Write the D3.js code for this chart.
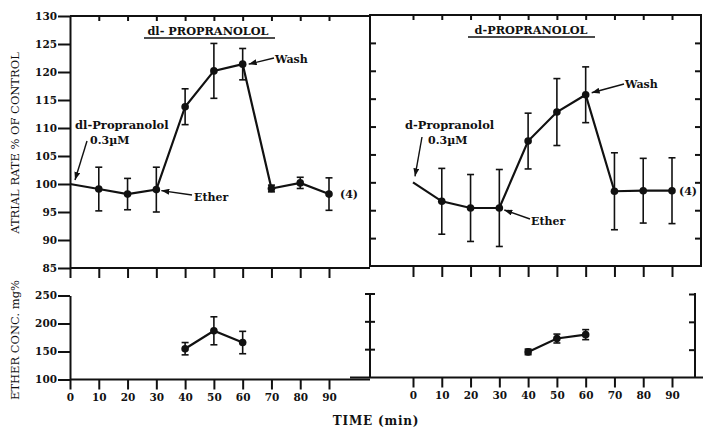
<!DOCTYPE html>
<html>
<head>
<meta charset="utf-8">
<script src="https://cdn.jsdelivr.net/npm/d3@7"></script>
<style>
  body { margin: 0; background: #fff; }
  svg text { font-family: "DejaVu Serif", serif; font-weight: bold; fill: #111; }
  .axis path, .axis line, .frame { stroke: #111; stroke-width: 2; fill: none; }
</style>
</head>
<body>
<div id="chart"></div>
<script>
// time points (min)
const times = [0, 10, 20, 30, 40, 50, 60, 70, 80, 90];
// atrial rate, % of control
const dlRate = [100, 99.1, 98.2, 99.0, 113.8, 120.2, 121.4, 99.2, 100.2, 98.2];
const dlRateErr = [0, 3.9, 2.8, 4.0, 3.2, 4.9, 2.8, 0.6, 1.0, 2.9];
const dRate = [100, 96.6, 95.4, 95.4, 107.4, 112.6, 115.7, 98.4, 98.5, 98.5];
const dRateErr = [0, 5.9, 6.0, 6.9, 5.0, 6.0, 5.0, 6.9, 5.8, 5.9];
// ether concentration, mg%
const etherTimes = [40, 50, 60];
const dlEther = [155, 187, 166];
const dlEtherErr = [11, 25, 20];
const dEther = [146, 170, 177];
const dEtherErr = [5, 8, 9];
// ticks
const rateTicks = [85, 90, 95, 100, 105, 110, 115, 120, 125, 130];
const etherTicks = [100, 150, 200, 250];

const width = 703, height = 430;

const svg = d3.select("#chart").append("svg")
  .attr("width", width).attr("height", height);

svg.append("defs").append("marker")
  .attr("id", "arrow")
  .attr("viewBox", "0 0 8 6")
  .attr("refX", 8).attr("refY", 3)
  .attr("markerWidth", 8).attr("markerHeight", 6)
  .attr("markerUnits", "userSpaceOnUse")
  .attr("orient", "auto")
  .append("path").attr("d", "M0,0L8,3L0,6Z").attr("fill", "#111");

// scales
const xL = d3.scaleLinear([0, 90], [70, 329]);
const xR = d3.scaleLinear([0, 90], [413, 672]);
const yTopL = d3.scaleLinear([85, 130], [268, 16]);
const yTopR = d3.scaleLinear([85, 130], [266, 15]);
const yBotL = d3.scaleLinear([100, 250], [379.5, 295.5]);
const yBotR = d3.scaleLinear([100, 250], [377.5, 294]);

function axis(gen, tx, ty, labels) {
  const g = svg.append("g").attr("class", "axis")
    .attr("transform", `translate(${tx},${ty})`)
    .call(gen);
  if (!labels) g.selectAll("text").remove();
  g.selectAll("text").attr("font-size", 10.5).attr("fill", "#111");
  return g;
}

// ---- top-left panel frame & axes
axis(d3.axisLeft(yTopL).tickValues(rateTicks).tickSize(12).tickSizeOuter(0).tickPadding(1), 70, 0, true);
svg.append("line").attr("class", "frame").attr("x1", 70).attr("x2", 370).attr("y1", 16).attr("y2", 16);
svg.append("line").attr("class", "frame").attr("x1", 70).attr("x2", 370).attr("y1", 268).attr("y2", 268);
axis(d3.axisBottom(xL).tickValues(times.slice(1)).tickSize(5), 0, 16).select(".domain").remove();
axis(d3.axisBottom(xL).tickValues(times).tickSize(10), 0, 268).select(".domain").remove();

// ---- top-right panel frame & axes
svg.append("rect").attr("class", "frame")
  .attr("x", 370).attr("y", 15).attr("width", 331).attr("height", 251);
axis(d3.axisRight(yTopR).tickValues(rateTicks.slice(1, -1)).tickSize(6), 370, 0).select(".domain").remove();
axis(d3.axisLeft(yTopR).tickValues(rateTicks.slice(1, -1)).tickSize(6), 701, 0).select(".domain").remove();
axis(d3.axisBottom(xR).tickValues(times).tickSize(5), 0, 15).select(".domain").remove();
axis(d3.axisBottom(xR).tickValues(times).tickSize(11), 0, 266).select(".domain").remove();

// ---- bottom-left panel
axis(d3.axisLeft(yBotL).tickValues(etherTicks).tickSize(12).tickSizeOuter(0).tickPadding(1), 70, 0, true);
svg.append("line").attr("class", "frame").attr("x1", 70).attr("x2", 370).attr("y1", yBotL(100)).attr("y2", yBotL(100));
axis(d3.axisBottom(xL).tickValues(times).tickSize(10).tickPadding(4), 0, yBotL(100), true).select(".domain").remove();

// ---- bottom-right panel
svg.append("line").attr("class", "frame").attr("x1", 350).attr("x2", 703).attr("y1", yBotR(100)).attr("y2", yBotR(100));
svg.append("line").attr("class", "frame").attr("x1", 370).attr("x2", 370).attr("y1", yBotR(250)).attr("y2", yBotR(100));
svg.append("line").attr("class", "frame").attr("x1", 695).attr("x2", 695).attr("y1", yBotR(250) - 1).attr("y2", yBotR(100));
svg.append("g").selectAll("line").data(etherTicks.slice(1)).join("line")
  .attr("class", "frame")
  .attr("x1", 365).attr("x2", 375)
  .attr("y1", d => yBotR(d)).attr("y2", d => yBotR(d));
axis(d3.axisLeft(yBotR).tickValues(etherTicks.slice(1)).tickSize(6), 695, 0).select(".domain").remove();
axis(d3.axisBottom(xR).tickValues(times).tickSize(10).tickPadding(4), 0, yBotR(100), true).select(".domain").remove();

// ---- data series
function series(x, y, ts, vals, errs, firstMarker) {
  const g = svg.append("g");
  const pts = ts.map((t, i) => ({ t, v: vals[i], e: errs[i] }));
  g.append("path")
    .datum(pts)
    .attr("fill", "none").attr("stroke", "#111").attr("stroke-width", 2.2)
    .attr("d", d3.line().x(d => x(d.t)).y(d => y(d.v)));
  const withBars = pts.slice(firstMarker);
  const eb = g.selectAll("g.eb").data(withBars.filter(d => d.e > 0)).join("g");
  eb.append("line")
    .attr("x1", d => x(d.t)).attr("x2", d => x(d.t))
    .attr("y1", d => y(d.v + d.e)).attr("y2", d => y(d.v - d.e))
    .attr("stroke", "#111").attr("stroke-width", 1.6);
  [1, -1].forEach(s => {
    eb.append("line")
      .attr("x1", d => x(d.t) - 3.5).attr("x2", d => x(d.t) + 3.5)
      .attr("y1", d => y(d.v + s * d.e)).attr("y2", d => y(d.v + s * d.e))
      .attr("stroke", "#111").attr("stroke-width", 1.6);
  });
  g.selectAll("circle").data(withBars).join("circle")
    .attr("cx", d => x(d.t)).attr("cy", d => y(d.v)).attr("r", 3.8)
    .attr("fill", "#111");
}

series(xL, yTopL, times, dlRate, dlRateErr, 1);
series(xR, yTopR, times, dRate, dRateErr, 1);
series(xL, yBotL, etherTimes, dlEther, dlEtherErr, 0);
series(xR, yBotR, etherTimes, dEther, dEtherErr, 0);

// ---- titles & annotations
function label(x, y, txt, size, anchor) {
  return svg.append("text").attr("x", x).attr("y", y)
    .attr("font-size", size || 11)
    .attr("text-anchor", anchor || "start")
    .text(txt);
}
function arrow(x1, y1, x2, y2) {
  svg.append("line")
    .attr("x1", x1).attr("y1", y1).attr("x2", x2).attr("y2", y2)
    .attr("stroke", "#111").attr("stroke-width", 1.4)
    .attr("marker-end", "url(#arrow)");
}

label(208, 35, "dl- PROPRANOLOL", 11.3, "middle");
svg.append("line").attr("x1", 144).attr("x2", 275).attr("y1", 38).attr("y2", 38).attr("stroke", "#111").attr("stroke-width", 1.5);
label(531, 34, "d-PROPRANOLOL", 11.3, "middle");
svg.append("line").attr("x1", 468).attr("x2", 595).attr("y1", 37).attr("y2", 37).attr("stroke", "#111").attr("stroke-width", 1.5);

// left annotations
label(75, 129, "dl-Propranolol", 11.5);
label(90, 144, "0.3µM");
arrow(87, 141, xL(0) + 5, yTopL(dlRate[0]) - 4);
label(194, 201, "Ether");
arrow(192, 195, xL(30) + 5, yTopL(dlRate[3]) + 1);
label(275, 63, "Wash");
arrow(274, 58, xL(60) + 6, yTopL(dlRate[6]));
label(xL(90) + 11, yTopL(dlRate[9]) + 4, "(4)");

// right annotations
label(405, 129, "d-Propranolol", 11.5);
label(428, 144, "0.3µM");
arrow(422, 137, xR(0) + 2, yTopR(dRate[0]) - 6);
label(531, 225, "Ether");
arrow(530, 219, xR(30) + 5, yTopR(dRate[3]) + 2);
label(625, 88, "Wash");
arrow(624, 84, xR(60) + 6, yTopR(dRate[6]) - 2);
label(xR(90) + 7, yTopR(dRate[9]) + 4, "(4)");

// axis titles
svg.append("text")
  .attr("transform", "translate(19,143) rotate(-90)")
  .attr("text-anchor", "middle").attr("font-size", 11.5)
  .style("font-weight", "normal")
  .text("ATRIAL RATE % OF CONTROL");
svg.append("text")
  .attr("transform", "translate(19,340) rotate(-90)")
  .attr("text-anchor", "middle").attr("font-size", 11.5)
  .style("font-weight", "normal")
  .text("ETHER CONC. mg%");
label(376, 425, "TIME (min)", 12, "middle").style("letter-spacing", "0.8px");
</script>
</body>
</html>
